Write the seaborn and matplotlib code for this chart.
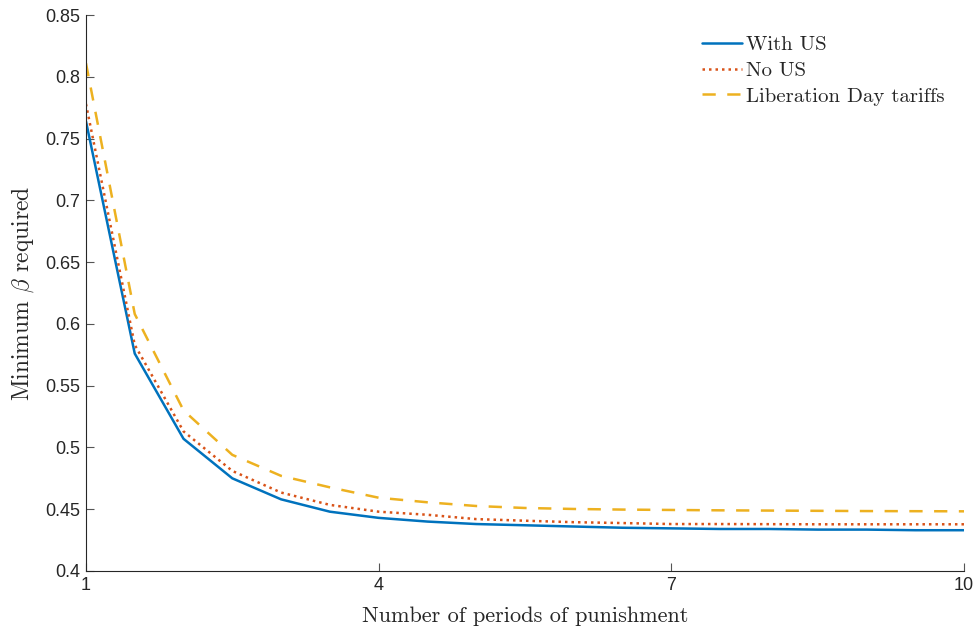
import numpy as np
import pandas as pd
import matplotlib as mpl
mpl.use("Agg")
import matplotlib.pyplot as plt
import seaborn as sns

# Data
periods = [1, 1.5, 2, 2.5, 3, 3.5, 4, 4.5, 5, 5.5, 6, 6.5, 7, 7.5, 8, 8.5, 9, 9.5, 10]
with_us = [0.764, 0.576, 0.507, 0.475, 0.458, 0.448, 0.443, 0.440, 0.438, 0.437,
           0.436, 0.435, 0.4345, 0.434, 0.434, 0.4335, 0.4335, 0.433, 0.433]
no_us = [0.778, 0.583, 0.513, 0.481, 0.4635, 0.4535, 0.448, 0.4455, 0.442, 0.4407,
         0.4395, 0.4388, 0.438, 0.4380, 0.4379, 0.4378, 0.4378, 0.4378, 0.4378]
liberation = [0.811, 0.608, 0.530, 0.494, 0.477, 0.4677, 0.4593, 0.4556, 0.4526, 0.451,
              0.4502, 0.4497, 0.4494, 0.4491, 0.4489, 0.4487, 0.4485, 0.4484, 0.4483]

series = ["With US", "No US", "Liberation Day tariffs"]
colors = ["#0072BD", "#D95319", "#EDB120"]
styles = ["-", (0, (1, 1.6)), (0, (5.3, 4.6))]


def main():
    sns.set_style("ticks")
    plt.rcParams['font.family'] = ['Liberation Sans', 'DejaVu Sans']
    plt.rcParams['mathtext.fontset'] = 'cm'
    serif = ['cmr10', 'DejaVu Serif']

    df = pd.DataFrame({
        "x": periods * 3,
        "y": with_us + no_us + liberation,
        "series": [series[0]] * len(periods) + [series[1]] * len(periods) + [series[2]] * len(periods),
    })

    fig = plt.figure(figsize=(9.79, 6.31), dpi=100)
    ax = fig.add_axes([0.0878, 0.0951, 0.8969, 0.8811])

    for name, c, ls in zip(series, colors, styles):
        sub = df[df["series"] == name]
        sns.lineplot(data=sub, x="x", y="y", ax=ax, color=c, linewidth=1.8,
                     linestyle=ls, label=name)

    ax.set_xlim(1, 10)
    ax.set_ylim(0.4, 0.85)
    ax.set_xticks([1, 4, 7, 10])
    ax.set_xticklabels(["1", "4", "7", "10"])
    yt = np.round(np.arange(0.4, 0.851, 0.05), 2)
    ax.set_yticks(yt)
    ax.set_yticklabels(["%g" % v for v in yt])
    ax.tick_params(direction="in", length=6, width=0.8, labelsize=13,
                   color="#555555", labelcolor="#262626", pad=4)

    for s in ["top", "right"]:
        ax.spines[s].set_visible(False)
    for s in ["left", "bottom"]:
        ax.spines[s].set_color("#262626")
        ax.spines[s].set_linewidth(0.8)

    ax.set_xlabel("Number of periods of punishment", fontsize=16, family=serif,
                  color="#262626", labelpad=9)
    ax.set_ylabel(r"Minimum $\beta$ required", fontsize=17, family=serif,
                  color="#262626", labelpad=7)

    leg = ax.legend(loc="upper right", frameon=False, handlelength=1.9,
                    handletextpad=0.2, labelspacing=0.35, bbox_to_anchor=(0.999, 0.997),
                    prop={'family': serif, 'size': 15})
    for t in leg.get_texts():
        t.set_color("#262626")

    fig.savefig("out.png", dpi=100)


if __name__ == "__main__":
    main()
